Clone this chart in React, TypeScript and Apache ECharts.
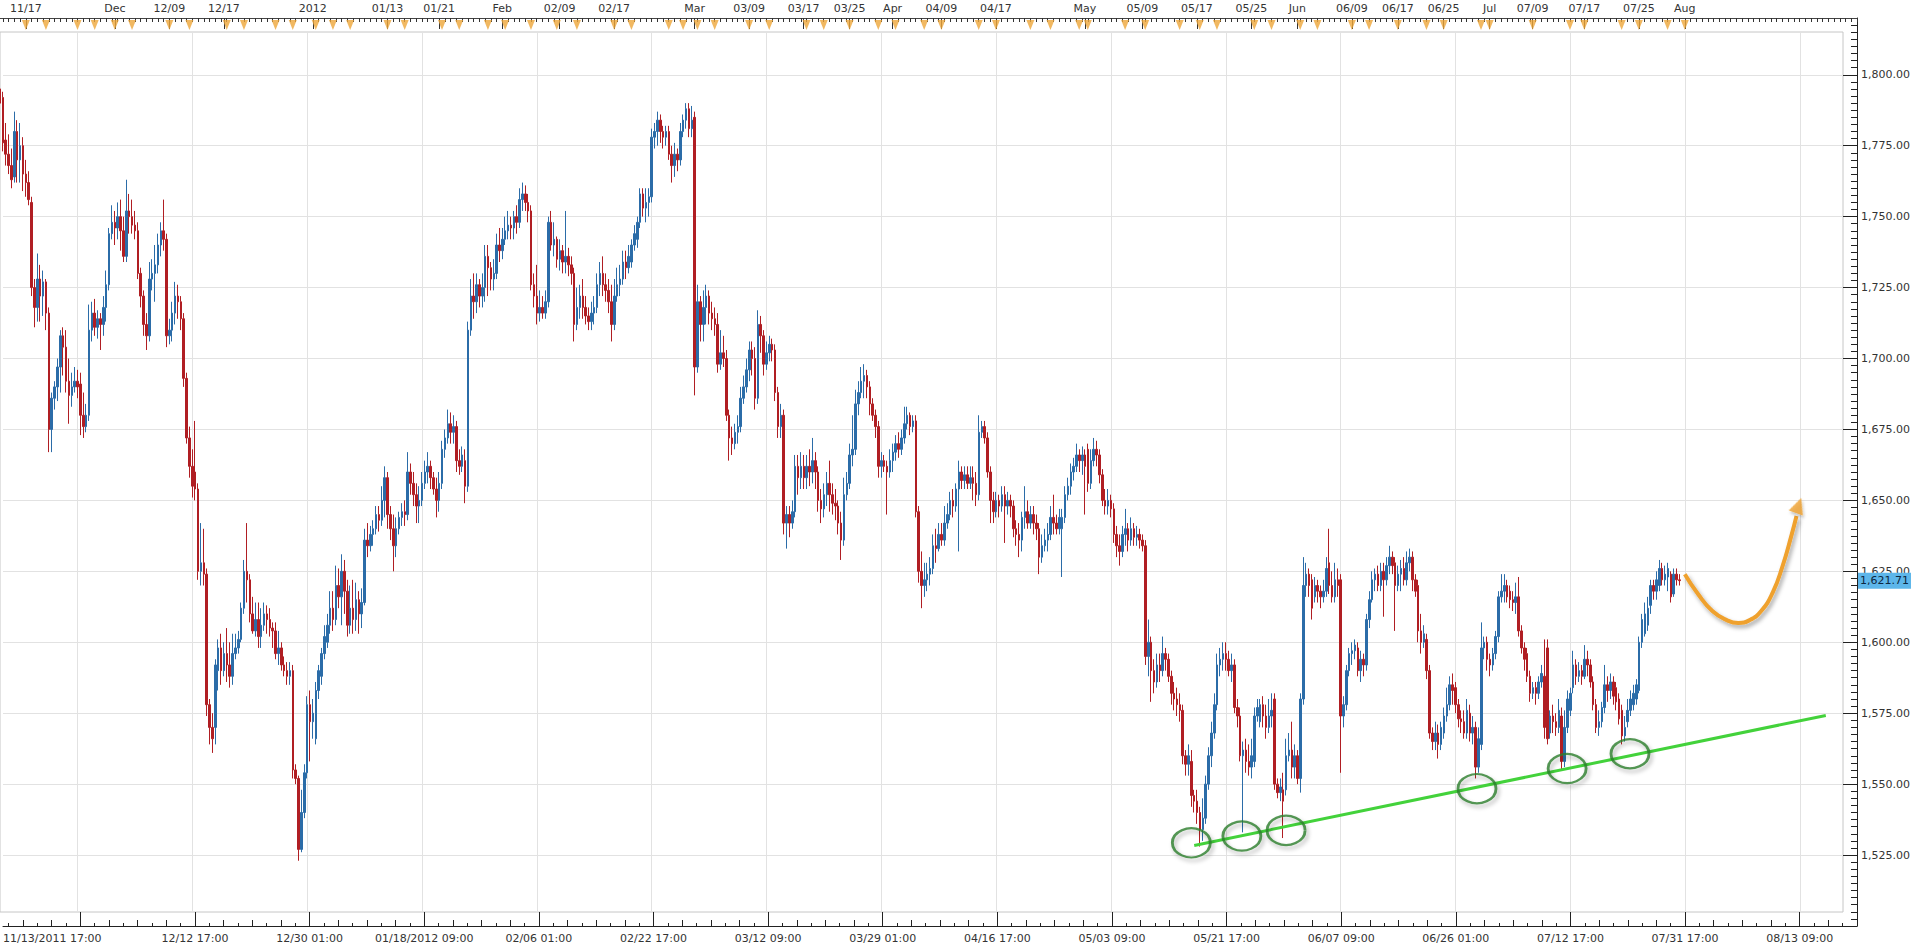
import React, { useEffect, useRef } from "react";
import * as echarts from "echarts";

// ---------- DATA (8-hour OHLC bars, [open, close, low, high]) ----------
const novBars = [
  [1795,1790,1787,1797],[1792,1776,1773,1794],[1777,1772,1768,1783],[1772,1768,1765,1779],[1768,1763,1760,1774],
  [1764,1780,1762,1787],[1780,1770,1762,1784],[1770,1775,1762,1783],[1775,1765,1759,1778],[1765,1762,1757,1770],
  [1762,1756,1754,1766],[1755,1725,1722,1757],[1725,1718,1711,1728],[1718,1728,1713,1737],[1728,1722,1713,1733],
  [1722,1727,1715,1731],[1727,1716,1710,1728],[1716,1675,1667,1718],[1675,1686,1667,1688],[1686,1690,1682,1692],
  [1690,1697,1685,1700],[1697,1708,1688,1710],[1708,1704,1694,1711],[1704,1692,1688,1710],[1692,1687,1677,1700],
  [1687,1690,1683,1695],[1690,1692,1688,1697],[1692,1690,1686,1696],[1691,1680,1673,1695],[1680,1676,1672,1688],
  [1676,1680,1674,1684],[1680,1710,1678,1719],[1710,1716,1706,1720],[1716,1711,1708,1721],[1711,1714,1707,1717],
  [1714,1712,1703,1716],[1712,1718,1708,1722],[1718,1726,1713,1731],[1726,1744,1724,1746],[1744,1748,1742,1754],
];
const decBars = [
  [1748,1746,1740,1752],[1746,1750,1742,1755],[1750,1745,1738,1756],[1745,1736,1734,1750],[1736,1752,1734,1763],
  [1752,1750,1744,1758],[1750,1747,1744,1756],[1747,1745,1742,1752],[1745,1730,1728,1748],[1730,1722,1718,1732],
  [1722,1712,1708,1724],[1712,1708,1703,1716],[1708,1728,1706,1734],[1728,1730,1724,1735],[1730,1733,1720,1740],
  [1733,1740,1730,1744],[1740,1745,1736,1748],[1745,1742,1738,1756],[1742,1708,1704,1744],[1708,1710,1705,1714],
  [1710,1716,1706,1720],[1716,1722,1712,1727],[1722,1720,1714,1726],[1720,1714,1710,1722],[1714,1693,1690,1716],
  [1693,1672,1670,1695],[1672,1662,1658,1676],[1662,1655,1651,1668],[1660,1654,1650,1678],[1654,1625,1622,1656],
  [1625,1628,1620,1642],[1628,1624,1620,1640],[1624,1578,1574,1626],[1578,1570,1564,1580],[1570,1566,1561,1575],
  [1570,1592,1564,1594],[1590,1598,1583,1601],[1598,1590,1585,1603],[1590,1596,1588,1600],[1596,1592,1586,1605],
  [1592,1588,1584,1600],[1588,1596,1585,1603],[1596,1598,1594,1603],[1598,1601,1596,1604],[1601,1612,1600,1614],
  [1612,1625,1610,1629],[1625,1622,1614,1642],[1622,1610,1607,1624],[1610,1604,1603,1616],[1604,1608,1602,1614],
  [1608,1602,1598,1614],[1602,1606,1598,1612],[1606,1610,1604,1614],[1610,1608,1603,1613],[1608,1605,1602,1612],
  [1605,1604,1598,1607],[1604,1596,1594,1607],[1596,1598,1592,1604],[1598,1592,1590,1600],[1592,1590,1588,1595],
  [1590,1588,1585,1593],[1588,1590,1585,1593],[1590,1555,1552,1592],[1555,1552,1550,1557],[1552,1527,1523,1553],
  [1527,1540,1526,1548],[1540,1554,1538,1557],[1554,1578,1552,1581],[1578,1572,1558,1583],
];
const janBars = [
  [1572,1575,1566,1580],[1566,1583,1564,1586],[1583,1590,1580,1592],[1588,1596,1585,1598],[1596,1602,1594,1606],
  [1600,1606,1598,1610],[1606,1612,1603,1618],[1612,1608,1604,1618],[1608,1620,1606,1627],[1620,1616,1612,1626],
  [1616,1625,1606,1631],[1625,1618,1610,1629],[1618,1606,1602,1622],[1606,1612,1603,1620],[1612,1608,1603,1622],
  [1608,1615,1604,1621],[1615,1610,1603,1618],[1610,1614,1605,1619],[1614,1636,1613,1640],[1636,1634,1630,1642],
  [1634,1638,1632,1641],[1638,1640,1634,1643],[1640,1645,1638,1648],[1645,1643,1639,1648],[1643,1650,1641,1655],
  [1650,1658,1644,1662],[1658,1645,1640,1660],[1645,1640,1636,1648],[1640,1634,1625,1645],[1634,1640,1630,1644],
  [1640,1644,1638,1646],[1644,1646,1641,1649],[1646,1645,1641,1650],[1645,1660,1643,1667],[1660,1656,1652,1663],
  [1656,1652,1648,1660],[1652,1648,1642,1656],[1648,1650,1642,1655],[1650,1656,1648,1660],[1656,1660,1654,1664],
  [1660,1662,1656,1667],[1662,1658,1654,1664],[1658,1654,1652,1660],[1654,1650,1644,1658],[1650,1656,1646,1660],
  [1656,1668,1654,1671],[1668,1672,1665,1675],[1672,1677,1670,1682],[1677,1674,1670,1681],[1674,1676,1670,1680],
  [1676,1664,1660,1678],[1664,1662,1659,1668],[1662,1666,1660,1669],[1664,1655,1649,1668],[1655,1710,1653,1713],
  [1710,1722,1708,1728],[1722,1720,1714,1730],[1720,1726,1716,1730],[1726,1722,1718,1728],[1722,1725,1718,1730],
  [1725,1736,1720,1740],[1736,1732,1722,1740],[1732,1728,1724,1734],[1728,1730,1724,1735],[1730,1740,1728,1744],
  [1740,1738,1734,1746],
];
const febBars = [
  [1738,1742,1735,1746],[1742,1745,1740,1750],[1745,1747,1742,1752],[1747,1746,1742,1750],[1746,1750,1742,1752],
  [1750,1748,1744,1754],[1748,1756,1746,1760],[1756,1758,1752,1762],[1758,1755,1752,1761],[1755,1752,1748,1758],
  [1752,1726,1724,1754],[1726,1722,1718,1730],[1722,1716,1712,1733],[1716,1718,1713,1724],[1718,1716,1714,1722],
  [1716,1720,1714,1724],[1720,1748,1718,1750],[1748,1740,1738,1752],[1740,1742,1736,1748],[1742,1735,1732,1743],
  [1735,1738,1731,1742],[1738,1734,1730,1740],[1734,1736,1730,1752],[1736,1733,1729,1739],[1733,1730,1726,1736],
  [1730,1712,1706,1732],[1712,1718,1710,1725],[1718,1722,1714,1726],[1722,1718,1714,1728],[1718,1715,1712,1722],
  [1715,1713,1710,1718],[1713,1716,1710,1720],[1716,1718,1712,1722],[1718,1726,1716,1730],[1726,1730,1722,1734],
  [1730,1726,1722,1736],[1726,1724,1720,1730],[1724,1720,1716,1728],[1720,1712,1706,1726],[1712,1722,1710,1728],
  [1722,1726,1720,1732],[1726,1728,1722,1733],[1728,1734,1726,1738],[1734,1732,1728,1738],[1732,1736,1730,1740],
  [1734,1740,1732,1742],[1740,1744,1738,1747],[1742,1748,1739,1750],[1748,1758,1746,1760],[1758,1753,1750,1760],
  [1753,1755,1748,1760],[1755,1757,1750,1760],[1757,1778,1755,1781],[1778,1780,1774,1783],[1780,1784,1775,1787],
  [1784,1780,1776,1786],[1780,1778,1774,1782],[1778,1780,1775,1782],[1780,1772,1770,1782],[1772,1768,1762,1775],
  [1768,1772,1764,1776],[1772,1770,1766,1774],[1770,1780,1768,1783],[1780,1784,1778,1786],[1784,1788,1781,1790],
  [1788,1781,1778,1790],[1781,1784,1778,1789],
];
const marBars = [
  [1785,1697,1687,1787],[1697,1720,1695,1726],[1720,1712,1706,1722],[1712,1718,1706,1724],[1718,1722,1712,1726],
  [1722,1716,1712,1724],[1716,1714,1710,1720],[1714,1712,1708,1718],[1712,1698,1695,1716],[1698,1702,1696,1710],
  [1702,1700,1697,1708],[1700,1680,1678,1703],[1680,1672,1664,1682],[1672,1670,1666,1676],[1670,1674,1668,1677],
  [1674,1676,1670,1680],[1676,1686,1674,1690],[1686,1690,1684,1694],[1690,1696,1688,1700],[1696,1703,1692,1706],
  [1703,1700,1694,1706],[1700,1686,1682,1704],[1686,1712,1684,1717],[1712,1708,1702,1715],[1708,1698,1694,1710],
  [1698,1702,1696,1706],[1702,1705,1699,1708],[1705,1703,1699,1707],[1703,1688,1685,1705],[1688,1676,1672,1690],
  [1676,1680,1672,1684],[1680,1642,1638,1682],[1642,1645,1633,1648],[1645,1642,1637,1648],[1642,1646,1640,1650],
  [1646,1662,1644,1666],[1662,1658,1652,1666],[1658,1662,1654,1667],[1662,1658,1654,1666],[1658,1662,1654,1666],
  [1662,1660,1655,1668],[1660,1664,1656,1672],[1664,1660,1654,1667],[1660,1650,1646,1662],[1650,1647,1642,1654],
  [1647,1652,1644,1656],[1652,1656,1648,1660],[1656,1652,1646,1664],[1652,1649,1645,1656],[1649,1648,1643,1654],
  [1648,1642,1638,1650],[1642,1636,1629,1646],[1636,1652,1634,1658],[1652,1656,1650,1660],[1656,1666,1654,1670],
  [1666,1668,1662,1680],[1668,1684,1666,1689],[1684,1688,1680,1692],[1688,1692,1686,1697],[1692,1694,1686,1698],
  [1694,1690,1686,1696],[1690,1684,1680,1692],[1684,1680,1678,1686],[1680,1676,1672,1682],[1676,1662,1658,1678],
  [1662,1664,1658,1667],[1664,1662,1660,1666],[1662,1660,1645,1664],[1660,1664,1658,1668],
];
const aprBars = [
  [1664,1667,1660,1670],[1667,1670,1664,1673],[1670,1668,1665,1674],[1668,1672,1666,1675],[1672,1677,1670,1683],
  [1677,1680,1675,1683],[1680,1676,1673,1681],[1676,1678,1674,1680],[1678,1646,1644,1680],[1646,1625,1621,1648],
  [1625,1620,1612,1632],[1620,1622,1616,1628],[1622,1624,1618,1628],[1624,1626,1620,1630],[1626,1634,1624,1638],
  [1634,1633,1628,1640],[1633,1638,1632,1642],[1638,1636,1634,1642],[1636,1642,1634,1648],[1642,1645,1640,1649],
  [1645,1650,1643,1653],[1650,1648,1644,1654],[1648,1654,1646,1656],[1654,1660,1632,1664],[1660,1657,1654,1662],
  [1657,1659,1654,1662],[1659,1656,1654,1662],[1656,1658,1654,1662],[1658,1656,1650,1662],[1656,1652,1648,1660],
  [1652,1674,1650,1680],[1674,1676,1672,1678],[1676,1672,1670,1678],[1672,1660,1658,1674],[1660,1650,1642,1662],
  [1650,1646,1642,1653],[1646,1650,1644,1653],[1650,1648,1644,1652],[1648,1652,1646,1655],[1652,1648,1635,1655],
  [1648,1650,1645,1653],[1650,1648,1644,1652],[1648,1640,1637,1650],[1640,1638,1634,1643],[1638,1636,1630,1642],
  [1636,1644,1632,1646],[1644,1646,1640,1655],[1646,1642,1640,1650],[1642,1645,1640,1648],[1645,1642,1638,1648],
  [1642,1640,1636,1645],[1640,1630,1624,1642],[1630,1634,1628,1638],[1634,1636,1632,1640],[1636,1638,1632,1642],
  [1638,1644,1636,1648],[1644,1642,1638,1652],[1642,1640,1638,1645],[1640,1644,1638,1647],[1640,1644,1623,1647],
  [1644,1652,1642,1655],[1652,1655,1650,1658],[1655,1660,1652,1663],[1660,1662,1657,1665],[1662,1666,1660,1670],
  [1666,1664,1660,1668],[1664,1666,1659,1669],
];
const mayBars = [
  [1666,1662,1645,1668],[1668,1656,1653,1670],[1656,1664,1654,1668],[1664,1668,1662,1672],[1668,1666,1662,1671],
  [1666,1659,1656,1668],[1659,1650,1648,1661],[1650,1648,1645,1654],[1648,1650,1645,1654],[1650,1647,1644,1652],
  [1647,1638,1635,1649],[1638,1634,1630,1641],[1634,1632,1627,1638],[1632,1638,1630,1641],[1638,1640,1634,1647],
  [1640,1636,1632,1642],[1636,1640,1634,1644],[1640,1637,1634,1642],[1637,1638,1634,1641],[1638,1636,1633,1640],
  [1636,1634,1632,1638],[1634,1595,1592,1636],[1595,1600,1588,1608],[1600,1590,1579,1602],[1590,1586,1582,1594],
  [1586,1592,1584,1596],[1592,1590,1586,1596],[1590,1596,1588,1602],[1596,1594,1590,1598],[1594,1588,1586,1596],
  [1588,1582,1578,1590],[1582,1580,1576,1586],[1580,1578,1574,1584],[1578,1576,1572,1582],[1576,1560,1557,1578],
  [1560,1557,1553,1562],[1557,1560,1553,1564],[1558,1546,1542,1562],[1546,1544,1540,1548],[1544,1540,1536,1548],
  [1540,1534,1528,1542],[1534,1538,1530,1545],[1538,1550,1536,1553],[1550,1560,1548,1563],[1560,1568,1556,1572],
  [1568,1578,1566,1582],[1578,1592,1576,1596],[1592,1594,1588,1598],[1594,1596,1590,1600],[1596,1594,1590,1600],
  [1594,1590,1588,1597],[1590,1592,1586,1596],[1592,1577,1575,1594],[1577,1574,1570,1580],[1574,1560,1558,1577],
  [1560,1562,1533,1565],[1562,1558,1554,1566],[1558,1556,1553,1564],[1556,1560,1552,1566],[1558,1574,1556,1577],
  [1574,1577,1572,1580],[1572,1578,1570,1580],[1578,1574,1570,1581],[1574,1570,1566,1578],[1570,1574,1568,1580],
  [1574,1576,1570,1582],[1580,1550,1548,1582],[1550,1547,1545,1552],[1547,1549,1544,1552],[1548,1544,1531,1554],
  [1548,1560,1546,1566],[1560,1562,1558,1568],[1562,1556,1552,1572],[1556,1560,1552,1564],
];
const junBars = [
  [1560,1552,1550,1562],[1552,1580,1547,1582],[1580,1620,1578,1630],[1620,1624,1616,1628],[1624,1620,1616,1626],
  [1622,1612,1608,1624],[1616,1620,1614,1623],[1620,1618,1614,1622],[1618,1616,1612,1620],[1616,1618,1614,1622],
  [1618,1626,1616,1630],[1628,1620,1617,1640],[1620,1616,1614,1625],[1616,1622,1614,1628],[1622,1620,1616,1626],
  [1622,1574,1554,1624],[1574,1578,1570,1581],[1578,1590,1576,1592],[1590,1596,1588,1598],[1596,1597,1592,1600],
  [1597,1599,1594,1601],[1598,1590,1588,1600],[1590,1594,1586,1597],[1594,1592,1588,1596],[1592,1608,1590,1610],
  [1608,1615,1605,1618],[1615,1622,1614,1625],[1622,1624,1618,1626],[1624,1620,1618,1627],[1620,1625,1618,1628],
  [1625,1622,1609,1628],[1622,1627,1620,1630],[1627,1630,1624,1634],[1630,1627,1624,1632],[1628,1620,1604,1630],
  [1620,1624,1618,1627],[1624,1626,1618,1629],[1626,1622,1620,1630],[1622,1628,1620,1632],[1628,1630,1625,1633],
  [1630,1622,1618,1632],[1622,1618,1616,1624],[1620,1604,1600,1622],[1604,1600,1596,1610],[1600,1603,1598,1606],
  [1601,1590,1587,1603],[1590,1568,1566,1592],[1568,1565,1562,1570],[1565,1568,1562,1572],[1568,1564,1559,1571],
  [1564,1570,1562,1572],[1568,1574,1566,1577],[1574,1578,1572,1584],[1578,1585,1576,1588],[1585,1583,1578,1589],
  [1584,1578,1575,1586],[1578,1573,1570,1580],[1573,1572,1568,1576],[1572,1568,1566,1576],[1568,1576,1566,1580],
  [1575,1568,1565,1578],[1568,1570,1564,1574],[1570,1556,1552,1572],[1556,1566,1554,1570],[1564,1598,1562,1607],
  [1598,1600,1594,1602],[1600,1594,1590,1602],
];
const julBars = [
  [1594,1592,1588,1596],[1592,1596,1590,1598],[1596,1602,1594,1604],[1602,1616,1600,1618],[1616,1618,1614,1624],
  [1618,1620,1614,1624],[1620,1616,1614,1622],[1618,1615,1612,1620],[1615,1614,1611,1618],[1614,1616,1610,1621],
  [1616,1604,1602,1623],[1604,1598,1596,1606],[1598,1594,1590,1600],[1596,1588,1586,1598],[1588,1582,1579,1590],
  [1582,1584,1580,1586],[1584,1582,1578,1586],[1582,1586,1580,1588],[1586,1589,1584,1592],[1588,1570,1566,1601],
  [1598,1566,1564,1601],[1568,1574,1566,1576],[1574,1572,1568,1578],[1572,1570,1567,1575],[1570,1576,1568,1580],
  [1574,1558,1555,1577],[1558,1570,1556,1576],[1570,1580,1568,1583],[1576,1582,1574,1584],[1584,1592,1582,1597],
  [1592,1588,1585,1594],[1588,1590,1586,1593],[1590,1588,1585,1592],[1588,1594,1587,1599],[1594,1592,1588,1597],
  [1592,1586,1584,1594],[1586,1578,1576,1588],[1578,1570,1568,1580],[1570,1572,1567,1576],[1572,1577,1570,1579],
  [1577,1585,1575,1592],[1585,1583,1579,1588],[1583,1586,1580,1589],[1586,1581,1578,1588],[1584,1579,1576,1586],
  [1580,1573,1571,1582],[1576,1567,1564,1578],[1567,1570,1565,1574],[1572,1576,1570,1580],[1576,1580,1574,1583],
  [1578,1582,1576,1585],[1580,1585,1578,1587],[1583,1600,1582,1602],[1600,1608,1598,1610],[1603,1610,1602,1614],
  [1606,1612,1604,1616],[1613,1620,1610,1622],[1620,1618,1615,1622],[1618,1622,1615,1625],[1620,1626,1618,1629],
  [1626,1622,1620,1628],[1622,1624,1620,1627],[1623,1626,1618,1628],[1624,1616,1614,1625],[1617,1624,1616,1626],
  [1624,1622,1620,1626],[1622,1621.71,1620,1624],
];
const lastPrice = 1621.71;

// Top time strip: labels and their bar positions
const topLabels = ["11/17","Dec","12/09","12/17","2012","01/13","01/21","Feb","02/09","02/17","Mar","03/09","03/17","03/25","Apr","04/09","04/17","May","05/09","05/17","05/25","Jun","06/09","06/17","06/25","Jul","07/09","07/17","07/25","Aug"];
const topLabelBars = [9,40,59,78,109,135,153,175,195,214,242,261,280,296,311,328,347,378,398,417,436,452,471,487,503,519,534,552,571,587];
// Event markers (orange triangles) in the top strip
const eventBars = [9,16,27,33,40,46,59,66,79,85,96,102,110,116,122,135,141,154,160,170,176,185,194,201,214,220,233,238,243,249,261,268,281,287,296,306,312,322,328,341,347,359,366,376,379,392,399,411,418,424,437,443,453,459,471,477,487,497,503,516,519,534,547,552,565,571,581,587];

// Bottom time axis labels and their bar positions
const bottomLabels = ["11/13/2011 17:00","12/12 17:00","12/30 01:00","01/18/2012 09:00","02/06 01:00","02/22 17:00","03/12 09:00","03/29 01:00","04/16 17:00","05/03 09:00","05/21 17:00","06/07 09:00","06/26 01:00","07/12 17:00","07/31 17:00","08/13 09:00"];
const bottomLabelBars = [0,67,107,147,187,227,267,307,347,387,427,467,507,547,587,627];

// Annotations (bar index, price)
const trendLine = [[416, 1528.4], [636, 1574.2]];
const lowCircles = [[415, 1529.3], [432.6, 1531.7], [448, 1533.7], [514.5, 1548.4], [545.9, 1555.5], [567.8, 1560.7]];
const forecastPath = [[586.9,1624.0],[591.5,1617.0],[596.5,1611.0],[601.5,1607.8],[605.5,1606.8],[609.5,1607.8],[613.5,1611.0],[617.5,1617.5],[621.0,1627.0],[624.0,1637.5],[625.8,1644.5]];
const forecastHead = [[626.5, 1648.2]];

// ---------- LAYOUT ----------
const PLOT_RIGHT = 1843, PLOT_TOP = 32, PLOT_BOTTOM = 912;
const AXIS_RIGHT = 1857, AXIS_TOP = 18, AXIS_BOTTOM = 926;
const Y_MIN = 1500, Y_MAX = 1820, Y_STEP = 25;
const N0 = 643;
const BAND = PLOT_RIGHT / (N0 - 1);
const N1 = Math.round(AXIS_RIGHT / BAND) + 1;
const PX_PER_UNIT = (AXIS_BOTTOM - AXIS_TOP) / (Y_MAX - Y_MIN);
const plotMax = Y_MAX - (PLOT_TOP - AXIS_TOP) / PX_PER_UNIT;
const plotMin = Y_MAX - (PLOT_BOTTOM - AXIS_TOP) / PX_PER_UNIT;

const BLUE = "#2B6CA8";
const RED = "#B01E23";
const FONT = "DejaVu Sans";
const TXT = "#333";
const GRIDC = "#e2e2e2";
const AXC = "#222";

const fmt2 = (v: number) => v.toLocaleString("en-US", { minimumFractionDigits: 2, maximumFractionDigits: 2 });

export default function App() {
  const ref = useRef<HTMLDivElement>(null);
  useEffect(() => {
    const chart = echarts.init(ref.current!, null, { renderer: "svg" });
    const bars = [...novBars, ...decBars, ...janBars, ...febBars, ...marBars, ...aprBars, ...mayBars, ...junBars, ...julBars];
    const cats0 = Array.from({ length: N0 }, (_, i) => String(i));
    const cats1 = Array.from({ length: N1 }, (_, i) => String(i));
    const topMap = new Map<number, string>();
    topLabelBars.forEach((b, k) => topMap.set(b, topLabels[k]));
    const botMap = new Map<number, string>();
    bottomLabelBars.forEach((b, k) => botMap.set(b, bottomLabels[k]));
    const isGrid = (i: number) => i >= 27 && (i - 27) % 40 === 0;

    const option: any = {
      animation: false,
      backgroundColor: "#ffffff",
      grid: [
        { left: 0, top: PLOT_TOP, width: PLOT_RIGHT, height: PLOT_BOTTOM - PLOT_TOP, show: true, borderColor: "#c6c6c6", borderWidth: 1 },
        { left: 0, top: AXIS_TOP, width: AXIS_RIGHT, height: AXIS_BOTTOM - AXIS_TOP },
        { left: 0, top: AXIS_TOP, width: AXIS_RIGHT, height: PLOT_TOP - AXIS_TOP },
        { left: 0, top: PLOT_TOP, width: PLOT_RIGHT, height: PLOT_BOTTOM - PLOT_TOP },
      ],
      xAxis: [
        {
          gridIndex: 0, type: "category", data: cats0, boundaryGap: false,
          axisLine: { show: false }, axisTick: { show: false }, axisLabel: { show: false },
          splitLine: { show: true, interval: (i: number) => isGrid(i), lineStyle: { color: GRIDC, width: 1 } },
        },
        {
          gridIndex: 1, type: "category", data: cats1, boundaryGap: false, position: "bottom", z: 5,
          axisLine: { show: true, onZero: false, lineStyle: { color: AXC, width: 1 } },
          axisTick: { show: true, inside: true, length: 3, interval: (i: number) => (i - 27) % 5 === 0, lineStyle: { color: AXC } },
          axisLabel: { show: false }, splitLine: { show: false },
        },
        {
          gridIndex: 1, type: "category", data: cats1, boundaryGap: false, position: "bottom", z: 5,
          axisLine: { show: false, onZero: false },
          axisTick: { show: true, inside: true, length: 6, interval: (i: number) => (i - 27) % 10 === 0, lineStyle: { color: AXC } },
          axisLabel: { show: false }, splitLine: { show: false },
        },
        {
          gridIndex: 1, type: "category", data: cats1, boundaryGap: false, position: "bottom", z: 5,
          axisLine: { show: false, onZero: false },
          axisTick: { show: true, inside: true, length: 14, interval: (i: number) => isGrid(i), lineStyle: { color: AXC } },
          axisLabel: {
            show: true, interval: (i: number) => botMap.has(i), formatter: (_v: string, i: number) => botMap.get(i) ?? "",
            margin: 7, alignMinLabel: "left", fontFamily: FONT, fontSize: 11, color: TXT,
          },
          splitLine: { show: false },
        },
        {
          gridIndex: 2, type: "category", data: cats1, boundaryGap: false, position: "top", z: 5,
          axisLine: { show: true, onZero: false, lineStyle: { color: "#444", width: 1 } },
          axisTick: { show: true, inside: true, length: 4, interval: (i: number) => i % 2 === 1, lineStyle: { color: "#333" } },
          axisLabel: { show: false }, splitLine: { show: false },
        },
        {
          gridIndex: 2, type: "category", data: cats1, boundaryGap: false, position: "top", z: 5,
          axisLine: { show: false, onZero: false },
          axisTick: { show: true, inside: true, length: 11, interval: (i: number) => topMap.has(i), lineStyle: { color: "#333" } },
          axisLabel: {
            show: true, interval: (i: number) => topMap.has(i), formatter: (_v: string, i: number) => topMap.get(i) ?? "",
            margin: 4, fontFamily: FONT, fontSize: 11, color: TXT,
          },
          splitLine: { show: false },
        },
        { gridIndex: 3, type: "value", min: 0, max: N0 - 1, show: false },
      ],
      yAxis: [
        { gridIndex: 0, type: "value", min: plotMin, max: plotMax, show: false },
        {
          gridIndex: 1, type: "value", position: "right", min: Y_MIN, max: Y_MAX, interval: Y_STEP,
          axisLine: { show: true, onZero: false, lineStyle: { color: AXC, width: 1 } },
          axisTick: { show: true, inside: true, length: 14, lineStyle: { color: AXC } },
          minorTick: { show: true, splitNumber: 10, length: 6, lineStyle: { color: AXC } },
          splitLine: { show: true, lineStyle: { color: GRIDC, width: 1 } },
          axisLabel: {
            show: true, margin: 4, showMinLabel: false, showMaxLabel: false,
            formatter: (v: number) => fmt2(v), fontFamily: FONT, fontSize: 11, color: TXT,
          },
        },
        { gridIndex: 2, type: "value", min: 0, max: 1, show: false },
        { gridIndex: 3, type: "value", min: plotMin, max: plotMax, show: false },
      ],
      series: [
        {
          type: "candlestick", xAxisIndex: 0, yAxisIndex: 0, data: bars, barWidth: 2,
          itemStyle: { color: BLUE, color0: RED, borderColor: BLUE, borderColor0: RED, borderWidth: 1 },
          markLine: {
            silent: true, symbol: ["none", "none"], animation: false,
            lineStyle: { color: "rgba(0,0,0,0)", width: 0 },
            label: {
              show: true, position: "end", distance: 15, formatter: fmt2(lastPrice),
              backgroundColor: "#5DB6EA", color: "#0d2740", padding: [3, 2, 2, 2],
              fontFamily: FONT, fontSize: 11,
            },
            data: [{ yAxis: lastPrice }],
          },
        },
        {
          type: "line", xAxisIndex: 6, yAxisIndex: 3, data: trendLine, symbol: "none", z: 5,
          lineStyle: { color: "#43D23B", width: 3 },
        },
        {
          type: "scatter", xAxisIndex: 6, yAxisIndex: 3, data: lowCircles, symbol: "circle", symbolSize: [38, 29], z: 6,
          itemStyle: {
            color: "rgba(0,0,0,0)", borderColor: "#2A7D2A", borderWidth: 2.5,
            shadowColor: "rgba(0,0,0,0.35)", shadowBlur: 4, shadowOffsetX: 2, shadowOffsetY: 3,
          },
        },
        {
          type: "line", xAxisIndex: 6, yAxisIndex: 3, data: forecastPath, symbol: "none", smooth: 0.5, z: 6,
          lineStyle: {
            color: "#EFA12E", width: 4,
            shadowColor: "rgba(0,0,0,0.35)", shadowBlur: 4, shadowOffsetX: 2, shadowOffsetY: 3,
          },
        },
        {
          type: "scatter", xAxisIndex: 6, yAxisIndex: 3, data: forecastHead, symbol: "triangle",
          symbolSize: [15, 16], symbolRotate: -20, z: 7,
          itemStyle: { color: "#EFA12E", shadowColor: "rgba(0,0,0,0.3)", shadowBlur: 3, shadowOffsetX: 2, shadowOffsetY: 2 },
        },
        {
          type: "scatter", xAxisIndex: 4, yAxisIndex: 2, data: eventBars.map((b) => [b, 0.5]), symbol: "triangle",
          symbolRotate: 180, symbolSize: [8, 10], z: 6,
          itemStyle: { color: "#EDA63A" },
        },
      ],
    };
    chart.setOption(option);
    return () => chart.dispose();
  }, []);
  return <div ref={ref} style={{ position: "fixed", left: 0, top: 0, width: 1914, height: 950, background: "#fff" }} />;
}
